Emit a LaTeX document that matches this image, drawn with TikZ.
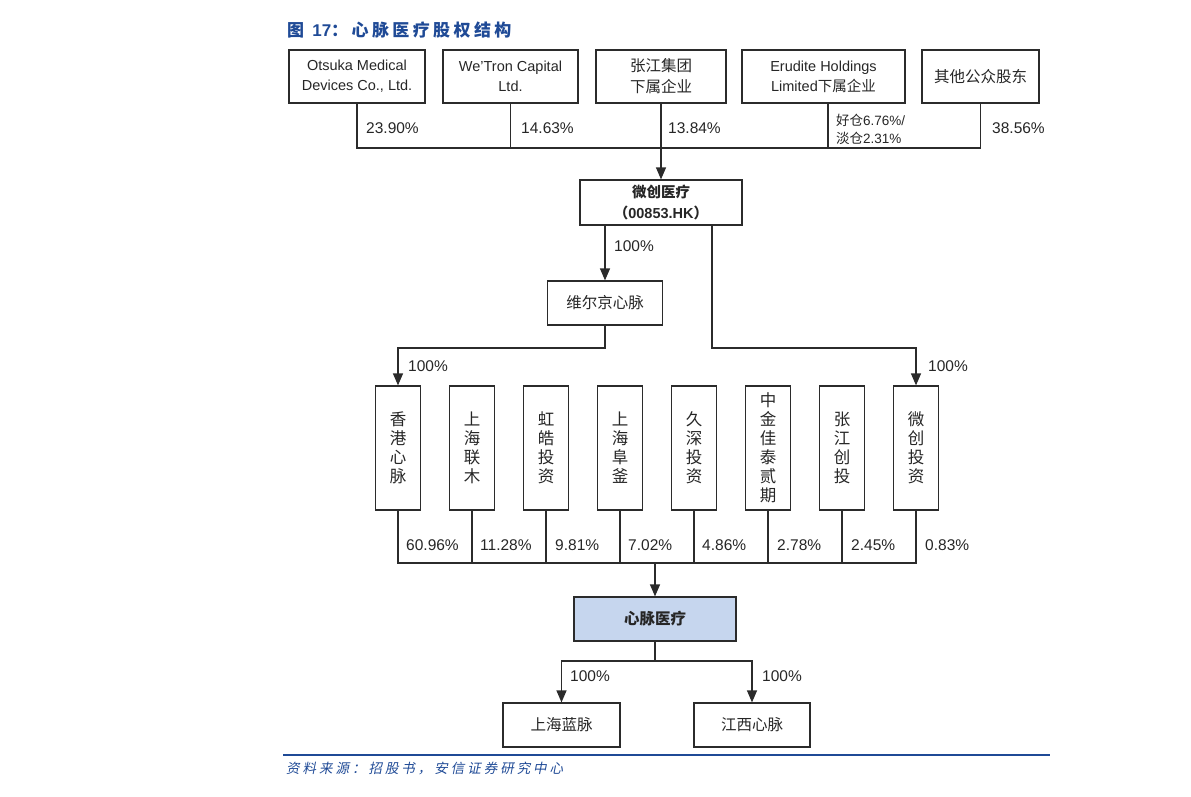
\documentclass[tikz,border=0pt]{standalone}
\usepackage{fontspec}
\setmainfont{Liberation Sans}
\newfontfamily\cjk{Noto Sans CJK SC}
\newfontfamily\cjktitle[LetterSpace=20]{Noto Sans CJK SC}
\newfontfamily\cjkfoot[FakeSlant=0.2,LetterSpace=22]{Noto Sans CJK SC}
\usetikzlibrary{arrows.meta}
\definecolor{boxline}{HTML}{2B2B2B}
\definecolor{titleblue}{HTML}{1F4A96}
\definecolor{xmfill}{HTML}{C6D6EE}
\begin{document}
\begin{tikzpicture}[x=1pt,y=-1pt,
  box/.style={draw=boxline, line width=1.2pt, inner sep=0pt, align=center, text=black!85,
    font=\fontsize{14.5}{20}\selectfont},
  cbox/.style={box, font=\cjk\fontsize{15.5}{21}\selectfont},
  vbox/.style={box, minimum width=45pt, minimum height=124pt, font=\cjk\fontsize{16.5}{19}\selectfont},
  pct/.style={anchor=west, inner sep=0pt, text=black!85, font=\fontsize{15.5}{18}\selectfont},
  conn/.style={draw=boxline, line width=1.2pt},
  arr/.style={conn, -{Triangle[width=10pt,length=12pt]}}]
\useasboundingbox (0,0) rectangle (1191,797);

% title
\node[anchor=west, inner sep=0pt, text=titleblue, font=\fontsize{17}{20}\selectfont] (title) at (287,30)
  {{\cjktitle\bfseries 图} \textbf{17}{\cjktitle\bfseries ：心脉医疗股权结构}};

% top shareholders
\node[box, minimum width=136pt, minimum height=53pt] (ots) at (357,76.5) {Otsuka Medical\\Devices Co., Ltd.};
\node[box, minimum width=135pt, minimum height=53pt] (wet) at (510.5,76.5) {We{\char"0027}Tron Capital\\Ltd.};
\node[cbox, minimum width=130pt, minimum height=53pt] (zj) at (661,76.5) {张江集团\\下属企业};
\node[box, minimum width=163pt, minimum height=53pt] (eru) at (823.5,76.5) {Erudite Holdings\\Limited{\cjk 下属企业}};
\node[cbox, minimum width=117pt, minimum height=53pt] (oth) at (980.5,76.5) {其他公众股东};

\coordinate (busL) at (357,148);
\coordinate (eruB) at (828,103);
\draw[conn] (ots.south) -- (busL) -- (oth.south |- busL) -- (oth.south);
\draw[conn] (wet.south) -- (wet.south |- busL);
\draw[conn] (eruB) -- (eruB |- busL);

\node[pct] (p1) at (366,128) {23.90\%};
\node[pct] (p2) at (521,128) {14.63\%};
\node[pct] (p3) at (668,128) {13.84\%};
\node[pct, align=left, font=\fontsize{13.5}{18}\selectfont] (p4) at (836,129) {{\cjk 好仓}6.76\%/\\{\cjk 淡仓}2.31\%};
\node[pct] (p5) at (992,128) {38.56\%};

% MicroPort
\node[box, minimum width=162pt, minimum height=45pt, font=\bfseries\fontsize{14.5}{21}\selectfont] (wc) at (661,202.5)
  {{\cjk\bfseries 微创医疗}\\{\cjk\bfseries （}00853.HK{\cjk\bfseries ）}};
\draw[arr] (zj.south) -- (wc.north);

\node[cbox, minimum width=115pt, minimum height=44pt] (vk) at (605,303) {维尔京心脉};
\draw[arr] (wc.south -| vk) -- (vk.north);
\node[pct] (l1) at (614,246) {100\%};

\coordinate (lvl2) at (0,348);
\coordinate (wcR) at (712,225);

% second row
\node[vbox] (b1) at (398,448) {香\\港\\心\\脉};
\node[vbox] (b2) at (472,448) {上\\海\\联\\木};
\node[vbox] (b3) at (546,448) {虹\\皓\\投\\资};
\node[vbox] (b4) at (620,448) {上\\海\\阜\\釜};
\node[vbox] (b5) at (694,448) {久\\深\\投\\资};
\node[vbox] (b6) at (768,448) {中\\金\\佳\\泰\\贰\\期};
\node[vbox] (b7) at (842,448) {张\\江\\创\\投};
\node[vbox] (b8) at (916,448) {微\\创\\投\\资};

\draw[arr] (vk.south) -- (vk.south |- lvl2) -| (b1.north);
\draw[arr] (wcR) -- (wcR |- lvl2) -| (b8.north);
\node[pct] (l2) at (408,366) {100\%};
\node[pct] (l3) at (928,366) {100\%};

\coordinate (lvl3) at (0,563);
\draw[conn] (b1.south) -- (b1.south |- lvl3) -- (b8.south |- lvl3) -- (b8.south);
\foreach \i in {2,...,7} { \draw[conn] (b\i.south) -- (b\i.south |- lvl3); }

\node[pct] (q1) at (406,545) {60.96\%};
\node[pct] (q2) at (480,545) {11.28\%};
\node[pct] (q3) at (555,545) {9.81\%};
\node[pct] (q4) at (628,545) {7.02\%};
\node[pct] (q5) at (702,545) {4.86\%};
\node[pct] (q6) at (777,545) {2.78\%};
\node[pct] (q7) at (851,545) {2.45\%};
\node[pct] (q8) at (925,545) {0.83\%};

% Xinmai
\node[box, fill=xmfill, minimum width=162pt, minimum height=44pt, font=\cjk\bfseries\fontsize{15.5}{20}\selectfont] (xm) at (655,619) {心脉医疗};
\draw[arr] (xm.north |- lvl3) -- (xm.north);

\node[cbox, minimum width=117pt, minimum height=44pt] (sl) at (561.5,725) {上海蓝脉};
\node[cbox, minimum width=116pt, minimum height=44pt] (jx) at (752,725) {江西心脉};
\coordinate (lvl4) at (0,661);
\draw[conn] (xm.south) -- (xm.south |- lvl4);
\draw[arr] (xm.south |- lvl4) -| (sl.north);
\draw[arr] (xm.south |- lvl4) -| (jx.north);
\node[pct] (l4) at (570,676) {100\%};
\node[pct] (l5) at (762,676) {100\%};

% footer
\coordinate (footL) at (283,755);
\coordinate (footR) at (1050,755);
\draw[titleblue, line width=2pt] (footL) -- (footR);
\node[anchor=west, inner sep=0pt, text=titleblue, font=\cjkfoot\fontsize{13.5}{16}\selectfont] (src) at (286,768)
  {资料来源：招股书，安信证券研究中心};
\end{tikzpicture}
\end{document}
